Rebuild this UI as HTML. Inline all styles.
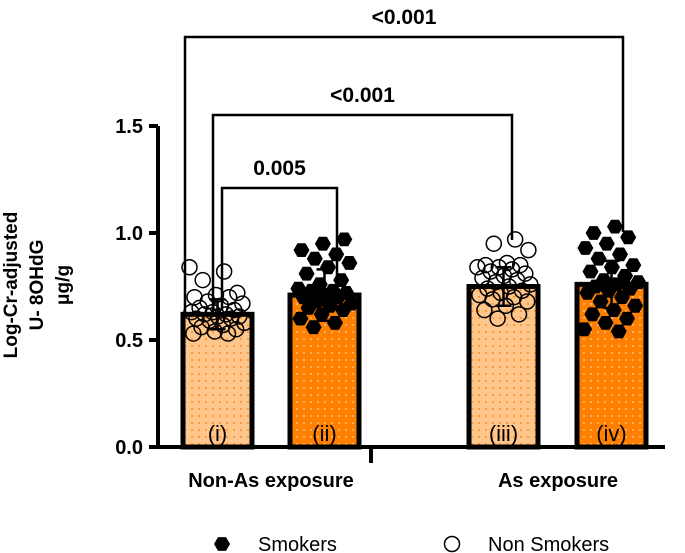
<!DOCTYPE html>
<html><head><meta charset="utf-8"><style>
body{margin:0;background:#fff}
svg{display:block;font-family:"Liberation Sans",Arial,sans-serif}
</style></head><body>
<svg id="chart" width="685" height="553" viewBox="0 0 685 553">
<defs>
<pattern id="dotsLight" width="7" height="7" patternUnits="userSpaceOnUse"><rect width="7" height="7" fill="#ffc68c"/><rect x="2" y="2" width="2" height="2" fill="#ff9a3c"/></pattern>
<pattern id="dotsDark" width="7" height="7" patternUnits="userSpaceOnUse"><rect width="7" height="7" fill="#ff8000"/><rect x="2" y="2" width="2" height="2" fill="#ffb060"/></pattern>
</defs>
<g id="bars"></g>
<g id="points"></g>
<g id="axes"></g>
<g id="brackets"></g>
</svg>
<script>
const groups=["Non-As exposure","As exposure"];
const barLabels=["(i)","(ii)","(iii)","(iv)"];
const barMeans=[0.62,0.71,0.75,0.76];
const barSD=[0.07,0.12,0.09,0.11];
const yTicks=[0.0,0.5,1.0,1.5];
const pvalues=["<0.001","<0.001","0.005"];
const ptsI=[0.84,0.82,0.78,0.72,0.71,0.70,0.70,0.68,0.67,0.66,0.65,0.64,0.63,0.63,0.62,0.62,0.61,0.61,0.60,0.60,0.59,0.58,0.57,0.56,0.55,0.54,0.53,0.53];
const ptsII=[0.97,0.95,0.92,0.90,0.88,0.86,0.84,0.81,0.78,0.76,0.74,0.73,0.73,0.72,0.71,0.70,0.70,0.68,0.67,0.66,0.65,0.64,0.62,0.60,0.58,0.56];
const ptsIII=[0.97,0.95,0.92,0.86,0.85,0.85,0.84,0.84,0.83,0.82,0.81,0.80,0.79,0.78,0.77,0.76,0.75,0.74,0.73,0.72,0.71,0.70,0.69,0.68,0.66,0.64,0.62,0.60];
const ptsIV=[1.03,1.00,0.98,0.95,0.93,0.90,0.88,0.85,0.84,0.82,0.80,0.78,0.77,0.76,0.75,0.74,0.73,0.72,0.70,0.68,0.66,0.64,0.62,0.60,0.58,0.55,0.54];
const allPts=[ptsI,ptsII,ptsIII,ptsIV];
const NS="http://www.w3.org/2000/svg";
const y0=447,yScale=214;
const y=v=>y0-v*yScale;
const barX=[183,290,469,577],barW=69;
function mk(tag,attrs,parent){const e=document.createElementNS(NS,tag);for(const k in attrs)e.setAttribute(k,attrs[k]);parent.appendChild(e);return e;}
const gB=document.getElementById('bars'),gP=document.getElementById('points'),gA=document.getElementById('axes'),gK=document.getElementById('brackets');
barMeans.forEach((m,i)=>{
  const r=mk('rect',{x:barX[i],y:y(m),width:barW,height:y0-y(m),fill:i%2?'url(#dotsDark)':'url(#dotsLight)',stroke:'#000','stroke-width':5},gB);
  
  
  const t=mk('text',{x:barX[i]+barW/2,y:441,'text-anchor':'middle','font-size':22},gB);t.textContent=barLabels[i];
  
  
});
function hex(cx,cy,r,parent){let p=[];for(let k=0;k<6;k++){const a=Math.PI/3*k;p.push((cx+r*Math.cos(a)).toFixed(1)+','+(cy+r*Math.sin(a)).toFixed(1));}return mk('polygon',{points:p.join(' '),fill:'#000'},parent);}
allPts.forEach((arr,i)=>{
  const cx=barX[i]+barW/2;
  arr.forEach((v,j)=>{
    const off=(((j+i*3)*0.6180339)%1-0.5)*56;
    let e;
    if(i%2) e=hex(cx+off,y(v),8,gP);
    else e=mk('circle',{cx:cx+off,cy:y(v),r:7.5,fill:'none',stroke:'#000','stroke-width':1.5},gP);
    
    
  });
  const top=y(barMeans[i]+barSD[i]),bot=y(barMeans[i]-barSD[i]);
  const eb=mk('path',{d:`M${cx},${bot}V${top}M${cx-8},${top}H${cx+8}M${cx-8},${bot}H${cx+8}`,stroke:'#000','stroke-width':2.5,fill:'none'},gP);
  
  
});
const ax=mk('path',{d:`M158,${y(1.5)}V${y0}H665M371,${y0}V463`,stroke:'#000','stroke-width':4,fill:'none'},gA);


yTicks.forEach(v=>{
  mk('path',{d:`M149,${y(v)}H158`,stroke:'#000','stroke-width':4},gA);
  const t=mk('text',{x:143,y:y(v)+7,'text-anchor':'end','font-size':20,'font-weight':'bold'},gA);t.textContent=v.toFixed(1);
  
  
});
[271,558].forEach((cx,i)=>{const t=mk('text',{x:cx,y:487,'text-anchor':'middle','font-size':20,'font-weight':'bold'},gA);t.textContent=groups[i];
  
  });
const yt=mk('text',{transform:'translate(43,285) rotate(-90)','text-anchor':'middle','font-size':19,'font-weight':'bold'},gA);


["Log-Cr-adjusted","U- 8OHdG","μg/g"].forEach((s,i)=>{const ts=mk('tspan',{x:0,y:(i-1)*26},yt);ts.textContent=s;});
const br=[[185,623,37,315,232],[213,512,115,315,240],[222,337,188,310,292]];
br.forEach((b,i)=>{
  const p=mk('path',{d:`M${b[0]},${b[3]}V${b[2]}H${b[1]}V${b[4]}`,stroke:'#000','stroke-width':2.5,fill:'none'},gK);
  
  
  const t=mk('text',{x:(b[0]+b[1])/2,y:b[2]-13,'text-anchor':'middle','font-size':21,'font-weight':'bold'},gK);t.textContent=pvalues[i];
  
  
});
const lg=mk('g',{},gK);


hex(222,544,8,lg);
let t1=mk('text',{x:258,y:551,'font-size':20},lg);t1.textContent="Smokers";
mk('circle',{cx:452,cy:544,r:7.5,fill:'none',stroke:'#000','stroke-width':1.5},lg);
let t2=mk('text',{x:488,y:551,'font-size':20},lg);t2.textContent="Non Smokers";
</script>
</body></html>
